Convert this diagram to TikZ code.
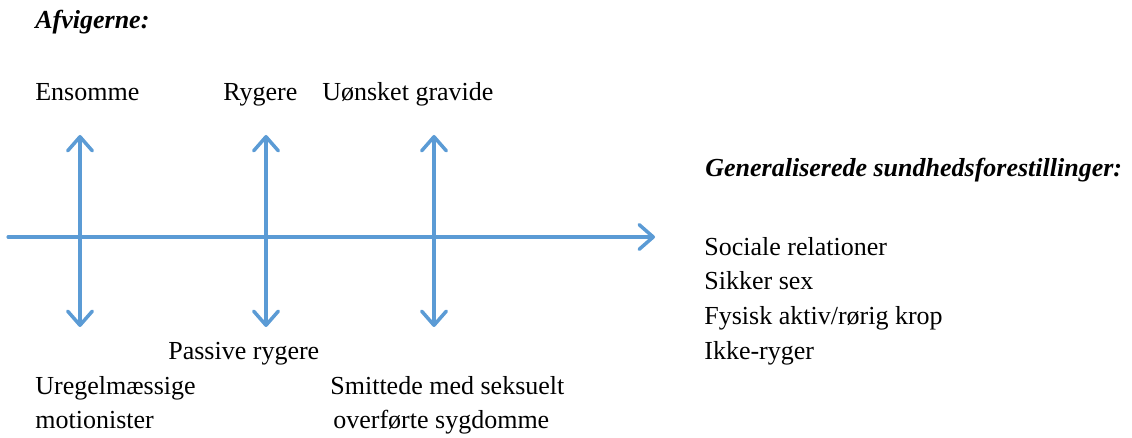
\documentclass[tikz,border=0pt]{standalone}
\usepackage{fontspec}
\setmainfont{Liberation Serif}
\usetikzlibrary{arrows.meta}
\definecolor{axisblue}{HTML}{5B9BD5}
\tikzset{
  lbl/.style={anchor=base west, inner sep=0pt, font=\fontsize{14.8}{19.3}\selectfont},
  hdr/.style={lbl, font=\fontsize{14.8}{19.3}\selectfont\bfseries\itshape},
  barb/.tip={Straight Barb[length=8pt, width=14pt, line width=2pt, round]},
  axis/.style={axisblue, line width=1.8pt, line cap=round, -barb},
  twoway/.style={axis, barb-barb}
}
\begin{document}
\begin{tikzpicture}[x=0.02cm, y=-0.02cm]
  \useasboundingbox (0,0) rectangle (1132,438);
  % Headers
  \node (afv) [hdr] at (35, 29) {Afvigerne:};
  \node (gen) [hdr] at (705, 177) {Generaliserede sundhedsforestillinger:};
  % Nodes above
  \node (ens) [lbl] at (35, 101) {Ensomme};
  \node (ryg) [lbl] at (223, 101) {Rygere};
  \node (grav) [lbl] at (322, 101) {Uønsket gravide};
  % Nodes below
  \node (pas) [lbl] at (168, 360) {Passive rygere};
  \node (ureg-0) [lbl] at (35, 395) {Uregelmæssige};
  \node (ureg-1) [lbl] at (35, 429) {motionister};
  \node (smit-0) [lbl] at (330, 395) {Smittede med seksuelt};
  \node (smit-1) [lbl] at (333, 429) {overførte sygdomme};
  % Right list
  \node (gen-0) [lbl] at (704, 256) {Sociale relationer};
  \node (gen-1) [lbl] at (704, 290) {Sikker sex};
  \node (gen-2) [lbl] at (704, 325) {Fysisk aktiv/rørig krop};
  \node (gen-3) [lbl] at (704, 360) {Ikke-ryger};
  % Arrow ends
  \coordinate (h-0) at (8, 237);
  \coordinate (h-1) at (655, 237);
  \coordinate (a-top) at (80, 135);
  \coordinate (a-bot) at (80, 327);
  \coordinate (b-top) at (266, 135);
  \coordinate (b-bot) at (266, 327);
  \coordinate (c-top) at (434, 135);
  \coordinate (c-bot) at (434, 327);
  % Arrows
  \draw[axis] (h-0) -- (h-1);
  \draw[twoway] (a-bot) -- (a-top);
  \draw[twoway] (b-bot) -- (b-top);
  \draw[twoway] (c-bot) -- (c-top);
\end{tikzpicture}
\end{document}
